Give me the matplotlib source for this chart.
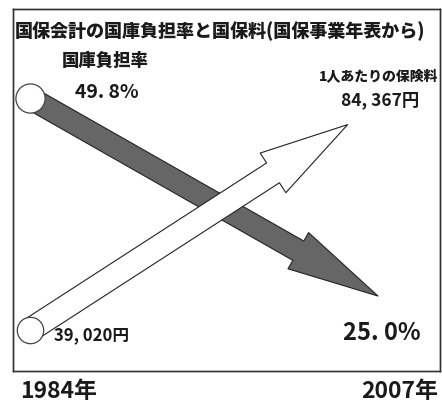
import numpy as np
import matplotlib
matplotlib.use("Agg")
import matplotlib.pyplot as plt

plt.rcParams['font.family'] = ['Noto Sans CJK JP', 'DejaVu Sans']

# データ (国保事業年表から)
years = [1984, 2007]
futan_ritsu = [49.8, 25.0]          # 国庫負担率 (%)
hokenryo = [39020, 84367]           # 1人あたりの保険料 (円)

title = "国保会計の国庫負担率と国保料(国保事業年表から)"
year_labels = ["1984年", "2007年"]

txt_c = '#1a1a1a'

fig = plt.figure(figsize=(4.42, 4.09), dpi=100)
ax = fig.add_axes([13 / 442, 38 / 409, 427 / 442, 362 / 409])
ax2 = ax.twinx()

ax.set_xlim(1982.876, 2011.10)
ax.set_ylim(15.61, 60.95)
ax2.set_ylim(30757, 103714)

for a in (ax, ax2):
    a.set_xticks([])
    a.set_yticks([])
    for s in a.spines.values():
        s.set_color('#333333')
        s.set_linewidth(1.0)
ax2.set_zorder(ax.get_zorder() + 1)
ax2.patch.set_visible(False)

# 国庫負担率 (濃い矢印)
ax.annotate('', xy=(years[1], futan_ritsu[1]), xytext=(years[0], futan_ritsu[0]),
            arrowprops=dict(arrowstyle='simple,head_length=66,head_width=30,tail_width=16',
                            mutation_scale=1, fc='#666666', ec='#222222', lw=0.8,
                            shrinkA=0, shrinkB=0), zorder=2)
ax.scatter([years[0]], [futan_ritsu[0]], s=21 ** 2, facecolor='white',
           edgecolor='#444444', linewidth=0.9, zorder=3)

# 1人あたりの保険料 (白い矢印)
ax2.annotate('', xy=(years[1], hokenryo[1]), xytext=(years[0], hokenryo[0]),
             arrowprops=dict(arrowstyle='simple,head_length=64,head_width=34,tail_width=17',
                             mutation_scale=1, fc='white', ec='#222222', lw=0.8,
                             shrinkA=0, shrinkB=26), zorder=4)
ax2.scatter([years[0]], [hokenryo[0]], s=19 ** 2, facecolor='white',
            edgecolor='#444444', linewidth=0.9, zorder=5)

# テキスト
fig.text(15 / 442, 1 - 31 / 409, title, fontsize=13, fontweight='heavy',
         ha='left', va='center', color=txt_c)
fig.text(105 / 442, 1 - 61 / 409, "国庫負担率", fontsize=12.5, fontweight='heavy',
         ha='center', va='center', color=txt_c)
fig.text(107 / 442, 1 - 92 / 409, "49. 8%", fontsize=14, fontweight='bold',
         ha='center', va='center', color=txt_c)
fig.text(379 / 442, 1 - 76 / 409, "1人あたりの保険料", fontsize=10, fontweight='heavy',
         ha='center', va='center', color=txt_c)
fig.text(380 / 442, 1 - 100 / 409, "84, 367円", fontsize=12.5, fontweight='bold',
         ha='center', va='center', color=txt_c)
fig.text(92 / 442, 1 - 335 / 409, "39, 020円", fontsize=12, fontweight='bold',
         ha='center', va='center', color=txt_c)
fig.text(382 / 442, 1 - 333 / 409, "25. 0%", fontsize=17, fontweight='bold',
         ha='center', va='center', color=txt_c)
fig.text(59 / 442, 1 - 391 / 409, year_labels[0], fontsize=16.5, fontweight='bold',
         ha='center', va='center', color=txt_c)
fig.text(400 / 442, 1 - 391 / 409, year_labels[1], fontsize=16.5, fontweight='bold',
         ha='center', va='center', color=txt_c)

fig.savefig("out.png", dpi=100)
